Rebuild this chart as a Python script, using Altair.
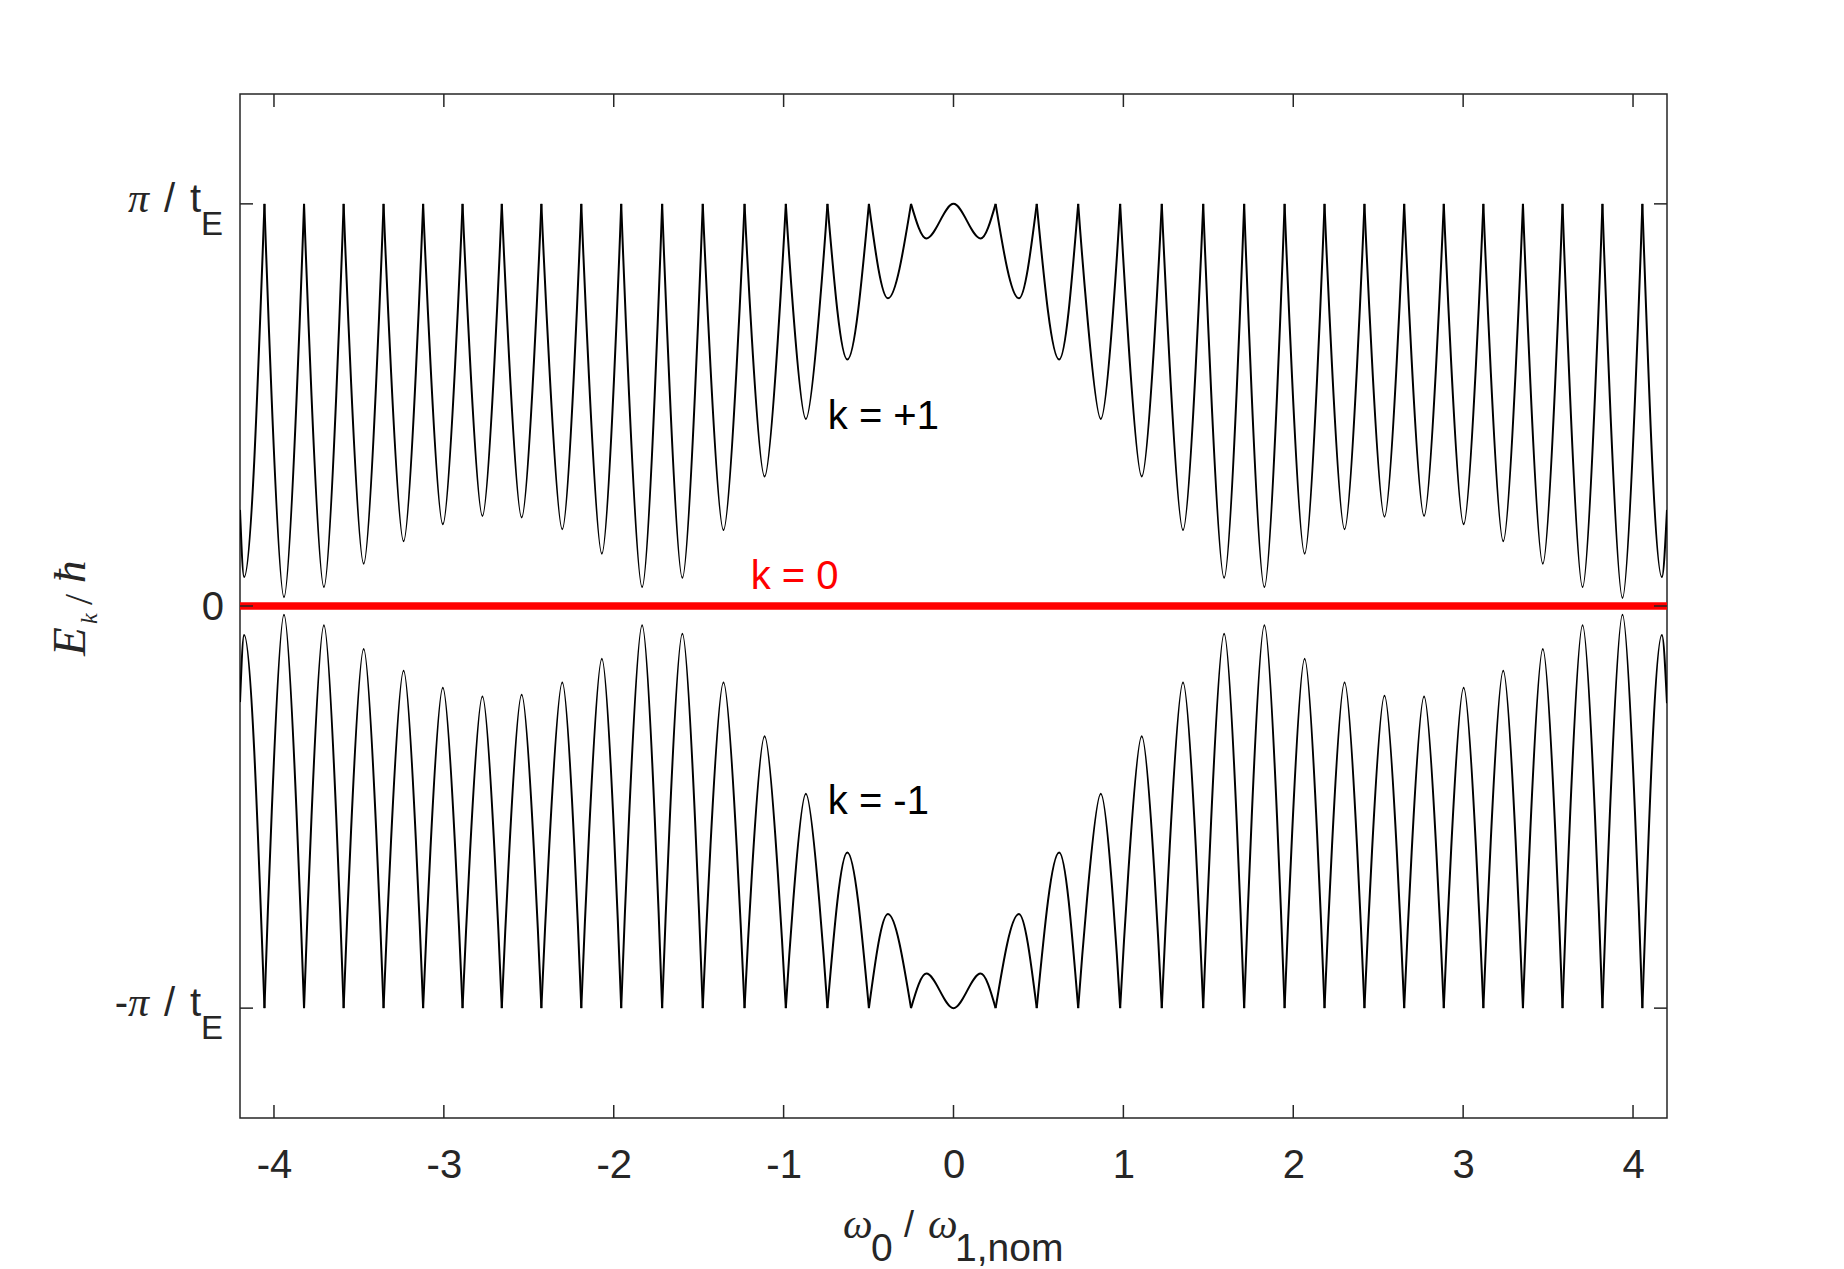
import altair as alt
import pandas as pd

# ---------------- data ----------------
# positions of the extrema (peaks / troughs) along omega_0 / omega_1,nom
x_extrema = [-4.20, -4.176, -4.056, -3.941, -3.823, -3.706, -3.590, -3.472, -3.355, -3.237,
             -3.122, -3.006, -2.890, -2.773, -2.659, -2.542, -2.426, -2.303, -2.191, -2.070,
             -1.956, -1.833, -1.715, -1.596, -1.476, -1.354, -1.230, -1.112, -0.987, -0.869,
             -0.742, -0.625, -0.498, -0.386, -0.250, -0.160, 0.0, 0.160, 0.248, 0.385,
             0.490, 0.622, 0.734, 0.867, 0.981, 1.108, 1.226, 1.351, 1.470, 1.593,
             1.711, 1.830, 1.949, 2.067, 2.184, 2.302, 2.419, 2.537, 2.653, 2.770,
             2.886, 3.003, 3.119, 3.236, 3.352, 3.469, 3.585, 3.703, 3.820, 3.938,
             4.055, 4.170, 4.20]

# E_k / hbar in units of pi / t_E
e_k_plus1 = [0.239, 0.072, 1, 0.022, 1, 0.047, 1, 0.105, 1, 0.161,
             1, 0.203, 1, 0.224, 1, 0.220, 1, 0.191, 1, 0.130,
             1, 0.047, 1, 0.070, 1, 0.189, 1, 0.322, 1, 0.465,
             1, 0.613, 1, 0.765, 1, 0.914, 1, 0.914, 1, 0.765,
             1, 0.613, 1, 0.465, 1, 0.322, 1, 0.189, 1, 0.070,
             1, 0.047, 1, 0.130, 1, 0.191, 1, 0.222, 1, 0.224,
             1, 0.203, 1, 0.161, 1, 0.105, 1, 0.047, 1, 0.020,
             1, 0.072, 0.239]

e_k_minus1 = [-0.239, -0.072, -1, -0.022, -1, -0.048, -1, -0.107, -1, -0.161,
              -1, -0.203, -1, -0.225, -1, -0.221, -1, -0.190, -1, -0.131,
              -1, -0.048, -1, -0.069, -1, -0.190, -1, -0.324, -1, -0.467,
              -1, -0.613, -1, -0.766, -1, -0.914, -1, -0.914, -1, -0.766,
              -1, -0.613, -1, -0.467, -1, -0.324, -1, -0.190, -1, -0.069,
              -1, -0.048, -1, -0.131, -1, -0.190, -1, -0.223, -1, -0.225,
              -1, -0.203, -1, -0.161, -1, -0.107, -1, -0.048, -1, -0.022,
              -1, -0.072, -0.242]

smooth_extremum_x = [0.0]          # rounded extremum (not a cusp)
k0_x = [-4.2, 4.2]
k0_e = [0.0, 0.0]

x_ticks = [-4, -3, -2, -1, 0, 1, 2, 3, 4]
y_ticks = [-1, 0, 1]

# ---------------- build table ----------------
def build(curve, xs_, es_):
    rows = []
    seg = 0
    n = len(xs_)
    for i, (x, e) in enumerate(zip(xs_, es_)):
        rows.append(dict(curve=curve, seg=f"{curve}-{seg}", ord=i, x=x, e=e))
        if abs(e) == 1 and x not in smooth_extremum_x and 0 < i < n - 1:
            seg += 1
            rows.append(dict(curve=curve, seg=f"{curve}-{seg}", ord=i, x=x, e=e))
    df = pd.DataFrame(rows)
    first_seg, last_seg = df["seg"].iloc[0], df["seg"].iloc[-1]
    mins = df.groupby("seg")["e"].apply(lambda s: s.abs().min())

    def style(s):
        if s in (first_seg, last_seg):
            return "mono"
        return "mono" if mins[s] >= 0.55 else "card"
    df["style"] = df["seg"].map(style)
    return df

curves = pd.concat([build("k=+1", x_extrema, e_k_plus1),
                    build("k=-1", x_extrema, e_k_minus1)], ignore_index=True)

W, H = 1427, 1024
AX = "#262626"
SANS = "Liberation Sans"
SERIF = "Liberation Serif"

xs = alt.Scale(domain=[-4.2, 4.2], nice=False, zero=False)
ys = alt.Scale(domain=[-1.2732, 1.2732], nice=False, zero=False)
xaxis = alt.Axis(values=x_ticks, ticks=False, domain=False, grid=False, title=None,
                 labelFont=SANS, labelFontSize=40, labelColor=AX, labelPadding=27,
                 labelExpr="datum.value < 0 ? '-' + abs(datum.value) : '' + datum.value")

def X(f):
    return alt.X(f, type="quantitative", scale=xs, axis=xaxis)

def Y(f):
    return alt.Y(f, type="quantitative", scale=ys, axis=None)

base = alt.Chart(curves)
card = base.transform_filter(alt.datum.style == "card").mark_line(
    color="black", strokeWidth=2, interpolate="cardinal", tension=0, clip=True
).encode(x=X("x"), y=Y("e"), detail="seg:N", order="ord:Q")
mono = base.transform_filter(alt.datum.style == "mono").mark_line(
    color="black", strokeWidth=2, interpolate="monotone", clip=True
).encode(x=X("x"), y=Y("e"), detail="seg:N", order="ord:Q")

red = alt.Chart(pd.DataFrame({"x": k0_x, "e": k0_e})).mark_line(
    color="#FF0000", strokeWidth=7.5, clip=True
).encode(x=X("x"), y=Y("e"))

# inward ticks on all four sides
xt = pd.DataFrame({"x": x_ticks})
yt = pd.DataFrame({"e": y_ticks})
tick_style = dict(color=AX, strokeWidth=1.5)
t_bottom = alt.Chart(xt).mark_rule(**tick_style).encode(x=X("x"), y=alt.value(H), y2=alt.value(H - 13))
t_top = alt.Chart(xt).mark_rule(**tick_style).encode(x=X("x"), y=alt.value(0), y2=alt.value(13))
t_left = alt.Chart(yt).mark_rule(**tick_style).encode(y=Y("e"), x=alt.value(0), x2=alt.value(13))
t_right = alt.Chart(yt).mark_rule(**tick_style).encode(y=Y("e"), x=alt.value(W), x2=alt.value(W - 13))

# y tick labels  (pi / t_E , 0 , -pi / t_E)
ylab = pd.DataFrame({"e": [1, -1]})
lab_t = alt.Chart(ylab).mark_text(text="t", font=SANS, fontSize=40, color=AX, align="right",
                                  baseline="alphabetic", dy=8).encode(y=Y("e"), x=alt.value(-39))
lab_slash = alt.Chart(ylab).mark_text(text="/", font=SANS, fontSize=40, color=AX, align="left",
                                      baseline="alphabetic", dy=8).encode(y=Y("e"), x=alt.value(-76))
lab_pi = alt.Chart(ylab).mark_text(text="π", font=SERIF, fontStyle="italic", fontSize=42, color=AX,
                                   align="right", baseline="alphabetic", dy=8).encode(y=Y("e"), x=alt.value(-91))
lab_E = alt.Chart(ylab).mark_text(text="E", font=SANS, fontSize=33, color=AX, align="left",
                                  baseline="alphabetic", dy=31).encode(y=Y("e"), x=alt.value(-39))
lab_minus = alt.Chart(pd.DataFrame({"e": [-1]})).mark_text(text="-", font=SANS, fontSize=40, color=AX,
                                   align="right", baseline="alphabetic", dy=8).encode(y=Y("e"), x=alt.value(-112))
lab_zero = alt.Chart(pd.DataFrame({"e": [0]})).mark_text(text="0", font=SANS, fontSize=40, color=AX,
                                   align="right", baseline="middle", dy=2).encode(y=Y("e"), x=alt.value(-16))

one = pd.DataFrame({"a": [0]})

def txt(text, x, y, **kw):
    return alt.Chart(one).mark_text(text=text, **kw).encode(x=alt.value(x), y=alt.value(y))

# x-axis title:  omega_0 / omega_1,nom
xt1 = txt("ω", 603, 1144, font=SERIF, fontStyle="italic", fontSize=42, color=AX, align="left", baseline="alphabetic")
xt2 = txt("0", 631, 1167, font=SANS, fontSize=39, color=AX, align="left", baseline="alphabetic")
xt3 = txt("/", 664, 1143, font=SANS, fontSize=36, color=AX, align="left", baseline="alphabetic")
xt4 = txt("ω", 688, 1144, font=SERIF, fontStyle="italic", fontSize=42, color=AX, align="left", baseline="alphabetic")
xt5 = txt("1,nom", 715, 1167, font=SANS, fontSize=39, color=AX, align="left", baseline="alphabetic")

# y-axis title: E_k / hbar (rotated)
yt1 = txt("E", -155, 562, font=SERIF, fontStyle="italic", fontSize=47, color=AX, angle=270,
          align="left", baseline="alphabetic")
yt2 = txt("k", -143, 530, font=SERIF, fontStyle="italic", fontSize=24, color=AX, angle=270,
          align="left", baseline="alphabetic")
yt3 = txt("/", -148, 511, font=SERIF, fontSize=40, color=AX, angle=270,
          align="left", baseline="alphabetic")
yt4 = txt("ħ", -155, 489, font=SERIF, fontStyle="italic", fontSize=45, color=AX, angle=270,
          align="left", baseline="alphabetic")

# curve labels
lab_df = pd.DataFrame({"x": [-0.74, -0.74], "e": [0.469, -0.488], "t": ["k = +1", "k = -1"]})
klabels = alt.Chart(lab_df).mark_text(font=SANS, fontSize=40, color="black", align="left",
                                      baseline="middle").encode(x=X("x"), y=Y("e"), text="t:N")
k0label = alt.Chart(pd.DataFrame({"x": [-1.194], "e": [0.072], "t": ["k = 0"]})).mark_text(
    font=SANS, fontSize=40, color="#FF0000", align="left", baseline="middle"
).encode(x=X("x"), y=Y("e"), text="t:N")

chart = alt.layer(
    card, mono, red, t_bottom, t_top, t_left, t_right,
    lab_t, lab_slash, lab_pi, lab_E, lab_minus, lab_zero,
    xt1, xt2, xt3, xt4, xt5, yt1, yt2, yt3, yt4,
    klabels, k0label
).properties(
    width=W, height=H,
    autosize=alt.AutoSizeParams(type="none"),
    padding={"left": 240, "top": 94, "right": 177, "bottom": 151},
    background="white",
).configure_view(stroke=AX, strokeWidth=1.5)

chart.save("out.html", embed_options={"renderer": "svg", "actions": False})
